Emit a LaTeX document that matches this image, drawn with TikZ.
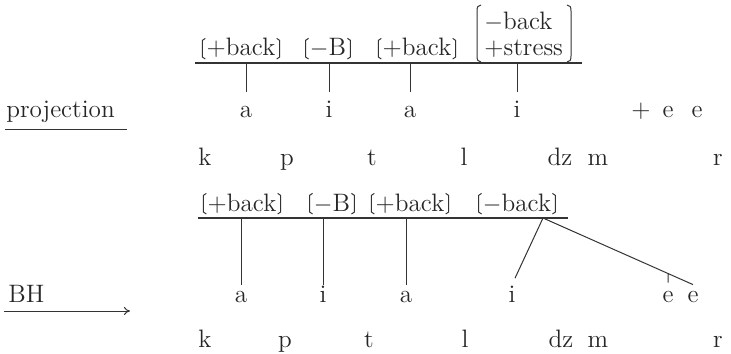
\documentclass[tikz,border=0pt]{standalone}
\usepackage{fontspec}
\usetikzlibrary{arrows.meta,calc}
\begin{document}
\begin{tikzpicture}[x=0.5pt,y=-0.5pt,
  every node/.style={font=\fontsize{12.6}{12.5}\selectfont, inner sep=0pt, text=black!85},
  seg/.style={anchor=base},
  vtop/.style={anchor=base, text height=7pt, inner ysep=5.5pt},
  vbot/.style={anchor=base, text height=7pt, inner ysep=1.5pt},
  feat/.style={anchor=base, text height=8.3pt, text depth=1pt, inner xsep=2pt, inner ysep=0.3pt},
  ln/.style={line width=0.5pt, draw=black!80},
  tier/.style={line width=0.65pt, draw=black!80}]
\useasboundingbox (0,0) rectangle (731,353);

% side labels
\node[anchor=base west] (proj) at (6,117) {projection};
\draw[ln] ($(proj.base west)+(-1,12)$) -- ++(122,0);
\node[anchor=base west] (bh) at (8,302) {BH};
\draw[ln,-{To[length=3pt,width=4pt]}] ($(bh.base west)+(-4,9)$) -- ++(126,0);

% ---------- upper representation ----------
\node[feat] (f1) at (241,56) {+back};
\node[feat] (f2) at (328,56) {$-$B};
\node[feat] (f3) at (417,56) {+back};
\node[anchor=base west] (f4a) at (484,30) {$-$back};
\node[anchor=base west] (f4b) at (484,55) {+stress};
\draw[ln] (481,5) .. controls (478,5) and (477,7) .. (477,11) -- (477,56)
  .. controls (477,60) and (478,62) .. (481,62);
\draw[ln] (567,5) .. controls (570,5) and (571,7) .. (571,11) -- (571,56)
  .. controls (571,60) and (570,62) .. (567,62);

\coordinate (tl1) at (195,63);
\coordinate (tl2) at (582,63);
\draw[tier] (tl1) -- (tl2);

\node[vtop] (va1) at (246,117) {a};
\node[vtop] (vi1) at (329,117) {i};
\node[vtop] (va2) at (410,117) {a};
\node[vtop] (vi2) at (517,117) {i};
\node[seg] (vplus) at (641,117) {+};
\node[seg] (ve1) at (668,117) {e};
\node[seg] (ve2) at (697,117) {e};
\foreach \v in {va1,vi1,va2,vi2}
  \draw[ln] (\v |- tl1) -- (\v.north);

\node[seg] (ck) at (205,165) {k};
\node[seg] (cp) at (287,165) {p};
\node[seg] (ct) at (372,165) {t};
\node[seg] (cl) at (464,165) {l};
\node[seg] (cdz) at (560,165) {dz};
\node[seg] (cm) at (598,165) {m};
\node[seg] (cr) at (718,165) {r};

% ---------- lower representation ----------
\node[feat] (g1) at (242,211) {+back};
\node[feat] (g2) at (332,211) {$-$B};
\node[feat] (g3) at (410,211) {+back};
\node[feat] (g4) at (517,211) {$-$back};

\coordinate (bl1) at (198,218);
\coordinate (bl2) at (568,218);
\coordinate (br) at (543,218);
\draw[tier] (bl1) -- (bl2);

\node[vbot] (ba1) at (241,302) {a};
\node[vbot] (bi1) at (323,302) {i};
\node[vbot] (ba2) at (406,302) {a};
\node[vbot] (bi2) at (512,302) {i};
\node[vbot] (be1) at (668,302) {e};
\node[vbot] (be2) at (693,302) {e};
\foreach \v in {ba1,bi1,ba2}
  \draw[ln] (\v |- bl1) -- (\v.north);
\draw[ln, shorten >=3.5pt] (br) -- (bi2.north);
\draw[ln] (br) -- (be2.north) coordinate[pos=0.835] (tk);
\draw[ln, shorten <=1pt] (be1.north) -- (tk);

\node[seg] (dk) at (205,347) {k};
\node[seg] (dp) at (285,347) {p};
\node[seg] (dt) at (369,347) {t};
\node[seg] (dl) at (465,347) {l};
\node[seg] (ddz) at (561,347) {dz};
\node[seg] (dm) at (598,347) {m};
\node[seg] (dr) at (718,347) {r};

% tortoise-shell brackets
\foreach \n in {f1,f2,f3,g1,g2,g3,g4}{
  \draw[ln] ($(\n.north west)+(3,0)$) -- ($(\n.north west)+(0,2)$)
    -- ($(\n.south west)+(0,-2)$) -- ($(\n.south west)+(3,0)$);
  \draw[ln] ($(\n.north east)+(-3,0)$) -- ($(\n.north east)+(0,2)$)
    -- ($(\n.south east)+(0,-2)$) -- ($(\n.south east)+(-3,0)$);
}
\end{tikzpicture}
\end{document}
